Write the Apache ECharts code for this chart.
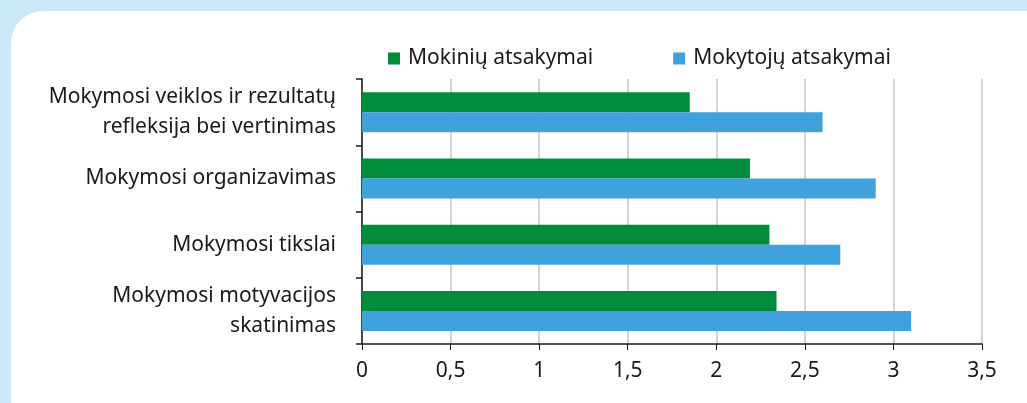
<!DOCTYPE html>
<html>
<head>
<meta charset="utf-8">
<script src="https://cdn.jsdelivr.net/npm/echarts@6/dist/echarts.min.js"></script>
<style>
  html, body { margin: 0; padding: 0; }
  body { width: 1027px; height: 403px; background: #cbe8f9; overflow: hidden; position: relative; }
  #panel { position: absolute; left: 11px; top: 11px; width: 1050px; height: 420px; background: #fff; border-radius: 32px; }
  #main { position: absolute; left: 0; top: 0; width: 1027px; height: 403px; }
</style>
</head>
<body>
<div id="panel"></div>
<div id="main"></div>
<script>
// categories top to bottom
const categories = [
    'Mokymosi veiklos ir rezultatų\nrefleksija bei vertinimas',
    'Mokymosi organizavimas',
    'Mokymosi tikslai',
    'Mokymosi motyvacijos\nskatinimas'
];
const mokiniu = [1.85, 2.19, 2.30, 2.34];
const mokytoju = [2.60, 2.90, 2.70, 3.10];
const seriesNames = ['Mokinių atsakymai', 'Mokytojų atsakymai'];

let myChart = echarts.init(document.getElementById('main'));
const font = 'Noto Sans';

myChart.setOption({
    backgroundColor: 'transparent',
    legend: {
        data: seriesNames,
        top: 43,
        left: 383,
        itemWidth: 12,
        itemHeight: 12,
        itemGap: 80,
        icon: 'rect',
        textStyle: { fontFamily: font, fontSize: 21, color: '#1a1a1a', padding: [0, 0, 0, 3] }
    },
    grid: { left: 362, right: 45, top: 79, bottom: 59 },
    xAxis: {
        type: 'value',
        min: 0,
        max: 3.5,
        interval: 0.5,
        axisLine: { show: true, lineStyle: { color: '#1a1a1a', width: 1.5 } },
        axisTick: { show: true, length: 6, lineStyle: { color: '#1a1a1a' } },
        splitLine: { lineStyle: { color: '#c4c4c4', width: 1.5 } },
        axisLabel: {
            margin: 17,
            fontFamily: font, fontSize: 21, color: '#1a1a1a',
            formatter: v => String(v).replace('.', ',')
        }
    },
    yAxis: {
        type: 'category',
        inverse: true,
        data: categories,
        axisLine: { lineStyle: { color: '#1a1a1a', width: 1.5 } },
        axisTick: { show: true, length: 6, lineStyle: { color: '#1a1a1a', width: 1.5 } },
        axisLabel: {
            margin: 26,
            fontFamily: font, fontSize: 21, color: '#1a1a1a',
            lineHeight: 30, align: 'right'
        }
    },
    series: [
        {
            name: seriesNames[0],
            type: 'bar',
            data: mokiniu,
            barWidth: 20,
            barGap: '0%',
            itemStyle: { color: '#008c3a' }
        },
        {
            name: seriesNames[1],
            type: 'bar',
            data: mokytoju,
            barWidth: 20,
            barGap: '0%',
            itemStyle: { color: '#3fa2dd' }
        }
    ]
});
</script>
</body>
</html>
